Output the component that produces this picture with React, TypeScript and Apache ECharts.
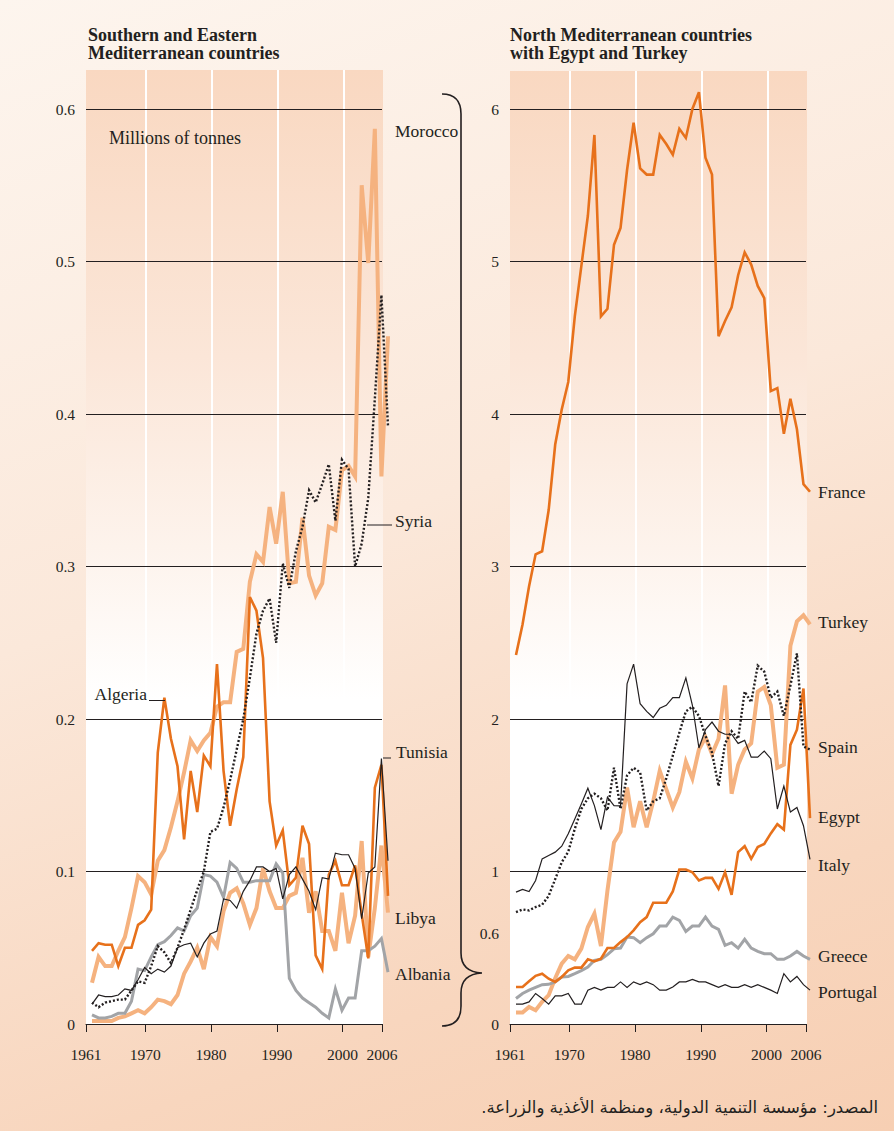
import React, { useEffect, useRef } from "react";
import * as echarts from "echarts";

// ---------- data (million tonnes) ----------
const years = Array.from({ length: 46 }, (_, i) => 1961 + i);
const tickYears = [1961, 1970, 1980, 1990, 2000, 2006];
const decadeYears = [1970, 1980, 1990, 2000];

// Southern and Eastern Mediterranean
const morocco = [0.027,0.044,0.038,0.038,0.048,0.057,0.076,0.097,0.093,0.085,0.107,0.114,0.129,0.146,0.165,0.186,0.179,0.186,0.191,0.208,0.211,0.211,0.244,0.246,0.290,0.308,0.303,0.339,0.315,0.349,0.289,0.290,0.332,0.294,0.281,0.289,0.326,0.324,0.363,0.366,0.359,0.550,0.499,0.587,0.359,0.451];
const syria = [0.014,0.011,0.014,0.015,0.016,0.016,0.022,0.028,0.027,0.038,0.051,0.047,0.040,0.050,0.062,0.075,0.088,0.100,0.126,0.128,0.142,0.160,0.180,0.200,0.227,0.256,0.271,0.279,0.250,0.302,0.286,0.310,0.326,0.350,0.342,0.354,0.367,0.330,0.370,0.364,0.300,0.315,0.345,0.410,0.478,0.392];
const algeria = [0.048,0.053,0.052,0.052,0.038,0.050,0.050,0.065,0.068,0.075,0.178,0.214,0.187,0.169,0.121,0.166,0.139,0.176,0.169,0.236,0.166,0.130,0.154,0.175,0.280,0.271,0.240,0.146,0.117,0.127,0.091,0.096,0.130,0.118,0.045,0.036,0.098,0.107,0.091,0.091,0.104,0.072,0.043,0.155,0.170,0.084];
const tunisia = [0.013,0.019,0.018,0.018,0.019,0.023,0.022,0.029,0.037,0.033,0.036,0.034,0.038,0.050,0.052,0.053,0.044,0.053,0.059,0.061,0.082,0.081,0.076,0.087,0.094,0.103,0.103,0.100,0.102,0.082,0.098,0.103,0.095,0.087,0.075,0.096,0.095,0.112,0.111,0.111,0.102,0.069,0.099,0.103,0.174,0.107];
const libya = [0.002,0.002,0.002,0.002,0.004,0.005,0.007,0.009,0.007,0.011,0.016,0.015,0.013,0.019,0.033,0.041,0.050,0.036,0.057,0.051,0.074,0.086,0.089,0.079,0.065,0.076,0.102,0.087,0.076,0.076,0.084,0.086,0.109,0.073,0.087,0.061,0.061,0.048,0.086,0.053,0.071,0.120,0.044,0.076,0.117,0.073];
const albania = [0.006,0.004,0.004,0.005,0.007,0.007,0.015,0.036,0.035,0.044,0.052,0.054,0.058,0.063,0.061,0.071,0.076,0.098,0.097,0.093,0.083,0.106,0.102,0.093,0.093,0.094,0.094,0.094,0.105,0.099,0.030,0.022,0.017,0.014,0.011,0.007,0.004,0.023,0.009,0.017,0.017,0.048,0.048,0.051,0.056,0.034];

// North Mediterranean with Egypt and Turkey
const france = [2.42,2.62,2.87,3.08,3.10,3.37,3.80,4.03,4.21,4.64,4.97,5.30,5.83,4.64,4.69,5.11,5.22,5.60,5.91,5.61,5.57,5.57,5.83,5.77,5.70,5.87,5.81,6.00,6.11,5.68,5.57,4.51,4.61,4.70,4.91,5.06,4.98,4.84,4.76,4.15,4.17,3.87,4.10,3.90,3.54,3.49];
const turkey = [0.075,0.075,0.112,0.090,0.145,0.189,0.300,0.396,0.446,0.424,0.494,0.636,0.723,0.511,0.876,1.19,1.26,1.55,1.29,1.46,1.29,1.46,1.66,1.54,1.42,1.52,1.72,1.61,1.80,1.88,1.77,1.87,2.22,1.51,1.70,1.80,1.84,2.18,2.21,2.09,1.68,1.70,2.48,2.64,2.68,2.62];
const spain = [0.734,0.751,0.745,0.767,0.782,0.840,0.950,1.060,1.130,1.280,1.410,1.480,1.510,1.480,1.400,1.680,1.410,1.630,1.680,1.650,1.400,1.460,1.480,1.610,1.760,1.910,2.050,2.080,2.020,1.890,1.780,1.560,1.840,1.920,1.870,2.180,2.110,2.350,2.310,2.140,2.180,2.020,2.220,2.430,1.820,1.800];
const egypt = [0.243,0.243,0.280,0.316,0.330,0.297,0.276,0.308,0.352,0.370,0.370,0.424,0.410,0.428,0.498,0.498,0.537,0.570,0.614,0.668,0.701,0.795,0.795,0.795,0.869,1.013,1.013,0.995,0.941,0.958,0.958,0.886,0.995,0.847,1.127,1.166,1.083,1.160,1.180,1.250,1.310,1.275,1.830,1.930,2.200,1.350];
const italy = [0.865,0.883,0.869,0.941,1.083,1.105,1.127,1.166,1.247,1.345,1.443,1.546,1.432,1.275,1.487,1.432,1.430,2.230,2.360,2.100,2.050,2.010,2.070,2.090,2.140,2.140,2.270,2.090,1.810,1.930,1.980,1.920,1.900,1.900,1.840,1.860,1.750,1.750,1.790,1.740,1.410,1.560,1.390,1.420,1.300,1.080];
const greece = [0.167,0.200,0.222,0.240,0.258,0.260,0.276,0.308,0.312,0.330,0.350,0.373,0.417,0.424,0.455,0.493,0.498,0.570,0.566,0.533,0.566,0.592,0.642,0.642,0.701,0.680,0.607,0.642,0.642,0.701,0.642,0.620,0.516,0.533,0.498,0.555,0.498,0.476,0.461,0.461,0.424,0.424,0.446,0.476,0.446,0.424];
const portugal = [0.130,0.130,0.145,0.200,0.167,0.130,0.185,0.185,0.200,0.130,0.130,0.222,0.240,0.222,0.240,0.240,0.276,0.240,0.276,0.258,0.276,0.258,0.222,0.222,0.243,0.276,0.276,0.292,0.276,0.276,0.258,0.240,0.258,0.240,0.240,0.258,0.240,0.258,0.240,0.222,0.200,0.330,0.276,0.312,0.258,0.222];

// ---------- styles ----------
const INK = "#231f20";
const DARK = "#e7711b";
const LIGHT = "#f5b27f";
const GREY = "#a2a4a7";
const SERIF = '"Liberation Serif", "Times New Roman", serif';
const LABEL_FONT = `17.5px ${SERIF}`;
const TITLE_FONT = `bold 18px ${SERIF}`;

echarts.graphic.registerShape(
  "brace",
  echarts.graphic.extendPath(
    "M442 94 Q461 94 461 114 L461 953 Q461 972 482 973 Q461 974 461 993 L461 1006 Q461 1026 442 1026",
    {}
  )
);

const pairs = (arr: number[]) => years.map((y, i) => [y, arr[i]]);

function lineSeries(name: string, arr: number[], axis: number, color: string, width: number, z: number, dotted = false) {
  return {
    name,
    type: "line",
    xAxisIndex: axis,
    yAxisIndex: axis,
    data: pairs(arr),
    symbol: "none",
    silent: true,
    clip: false,
    z,
    lineStyle: { color, width, type: dotted ? [2, 2] : "solid", cap: "butt", join: "miter" },
  };
}

function txt(text: string, x: number, y: number, opts: any = {}) {
  return {
    type: "text",
    x,
    y,
    z: 20,
    silent: true,
    style: {
      text,
      fill: INK,
      font: opts.font || LABEL_FONT,
      align: opts.align || "left",
      verticalAlign: "middle",
      textAlign: opts.align || "left",
      textVerticalAlign: "middle",
    },
  };
}

function hline(x1: number, x2: number, y: number) {
  return { type: "line", z: 20, silent: true, shape: { x1, y1: y, x2, y2: y }, style: { stroke: INK, lineWidth: 1 } };
}

function plotBg() {
  return new echarts.graphic.LinearGradient(0, 0, 0, 1, [
    { offset: 0, color: "#f9d8c1" },
    { offset: 0.3, color: "#fbe6d8" },
    { offset: 0.5, color: "#fdf3ec" },
    { offset: 0.66, color: "#ffffff" },
    { offset: 1, color: "#ffffff" },
  ]);
}

function buildOption() {
  const hidden = (gi: number, min: number, max: number) => ({ type: "value", gridIndex: gi, min, max, show: false });

  const xShown = (gi: number) => ({
    type: "value",
    gridIndex: gi,
    min: 1961,
    max: 2006,
    z: 2,
    axisLine: { show: true, lineStyle: { color: INK, width: 1 } },
    axisTick: { show: true, customValues: tickYears, length: 8, lineStyle: { color: INK, width: 1 } },
    axisLabel: { customValues: tickYears, color: INK, fontFamily: SERIF, fontSize: 15.5, margin: 22, formatter: (v: number) => String(v), hideOverlap: false },
    splitLine: { show: false },
  });

  const yShown = (gi: number, max: number, step: number, fmt: (v: number) => string) => ({
    type: "value",
    gridIndex: gi,
    min: 0,
    max,
    interval: step,
    z: 2,
    axisLine: { show: false },
    axisTick: { show: false },
    axisLabel: { color: INK, fontFamily: SERIF, fontSize: 15.5, margin: 11, formatter: fmt },
    splitLine: { show: true, lineStyle: { color: INK, width: 1 } },
  });

  const whiteLines = (axis: number) => ({
    type: "line",
    xAxisIndex: axis,
    yAxisIndex: axis,
    data: [[1961, 0]],
    symbol: "none",
    silent: true,
    z: 1,
    lineStyle: { opacity: 0 },
    markLine: {
      silent: true,
      z: 1,
      symbol: ["none", "none"],
      label: { show: false },
      animation: false,
      lineStyle: { color: "#ffffff", width: 2, type: "solid" },
      data: decadeYears.map((y) => ({ xAxis: y })),
    },
  });

  return {
    animation: false,
    backgroundColor: "transparent",
    grid: [
      { left: 86, top: 70, width: 297, height: 955, show: true, backgroundColor: plotBg(), borderWidth: 0, z: 0, outerBoundsMode: "none" },
      { left: 86, top: 109, width: 296, height: 915, outerBoundsMode: "none" },
      { left: 92, top: 109, width: 296, height: 915, outerBoundsMode: "none" },
      { left: 510, top: 71, width: 297, height: 954, show: true, backgroundColor: plotBg(), borderWidth: 0, z: 0, outerBoundsMode: "none" },
      { left: 510, top: 109, width: 296, height: 915, outerBoundsMode: "none" },
      { left: 516, top: 109, width: 294, height: 915, outerBoundsMode: "none" },
    ],
    xAxis: [
      hidden(0, 1961, 2006),
      xShown(1),
      hidden(2, 1961, 2006),
      hidden(3, 1961, 2006),
      xShown(4),
      hidden(5, 1961, 2006),
    ],
    yAxis: [
      hidden(0, 0, 1),
      yShown(1, 0.6, 0.1, (v: number) => (v === 0 ? "0" : v.toFixed(1))),
      hidden(2, 0, 0.6),
      hidden(3, 0, 1),
      yShown(4, 6, 1, (v: number) => String(Math.round(v))),
      hidden(5, 0, 6),
    ],
    series: [
      whiteLines(0),
      whiteLines(3),
      lineSeries("Morocco", morocco, 2, LIGHT, 4, 3),
      lineSeries("Libya", libya, 2, LIGHT, 4, 3),
      lineSeries("Albania", albania, 2, GREY, 3, 4),
      lineSeries("Algeria", algeria, 2, DARK, 2.6, 5),
      lineSeries("Tunisia", tunisia, 2, INK, 1.2, 6),
      lineSeries("Syria", syria, 2, INK, 2.4, 7, true),
      lineSeries("Turkey", turkey, 5, LIGHT, 4, 3),
      lineSeries("Greece", greece, 5, GREY, 3, 4),
      lineSeries("Egypt", egypt, 5, DARK, 2.6, 5),
      lineSeries("France", france, 5, DARK, 2.6, 5),
      lineSeries("Italy", italy, 5, INK, 1.2, 6),
      lineSeries("Portugal", portugal, 5, INK, 1.2, 6),
      lineSeries("Spain", spain, 5, INK, 2.4, 7, true),
    ],
    graphic: [
      txt("Southern and Eastern", 88, 35, { font: TITLE_FONT }),
      txt("Mediterranean countries", 88, 53, { font: TITLE_FONT }),
      txt("North Mediterranean countries", 510, 35, { font: TITLE_FONT }),
      txt("with Egypt and Turkey", 510, 53, { font: TITLE_FONT }),
      txt("Millions of tonnes", 109, 138, { font: `18px ${SERIF}` }),
      txt("Morocco", 395, 131),
      txt("Syria", 395, 521),
      txt("Algeria", 147, 694, { align: "right" }),
      txt("Tunisia", 396, 752),
      txt("Libya", 395, 918),
      txt("Albania", 395, 974),
      txt("France", 818, 492),
      txt("Turkey", 818, 622),
      txt("Spain", 818, 747),
      txt("Egypt", 818, 817),
      txt("Italy", 818, 865),
      txt("Greece", 818, 956),
      txt("Portugal", 818, 992),
      txt("0.6", 499, 933, { align: "right", font: `15.5px ${SERIF}` }),
      hline(149, 165, 700.5),
      hline(367, 392, 525),
      hline(383, 391, 758),
      {
        type: "brace",
        x: 0,
        y: 0,
        z: 20,
        silent: true,
        style: { fill: "none", stroke: INK, lineWidth: 1.6 },
      },
      txt("\u200Fالمصدر: مؤسسة التنمية الدولية، ومنظمة الأغذية والزراعة.\u200F", 878, 1107, {
        align: "right",
        font: `16.5px "DejaVu Sans", "Noto Sans", sans-serif`,
      }),
    ],
  };
}

export default function App() {
  const ref = useRef<HTMLDivElement>(null);
  useEffect(() => {
    if (!ref.current) return;
    const chart = echarts.init(ref.current, null, { renderer: "svg", width: 894, height: 1131 });
    chart.setOption(buildOption() as any);
    return () => chart.dispose();
  }, []);
  return (
    <div
      style={{
        position: "absolute",
        left: 0,
        top: 0,
        width: 894,
        height: 1131,
        overflow: "hidden",
        background: "linear-gradient(160deg, #fdf5ee 0%, #fbe8da 45%, #f8d6be 80%, #f7cfb3 100%)",
      }}
    >
      <div ref={ref} style={{ width: 894, height: 1131 }} />
    </div>
  );
}
